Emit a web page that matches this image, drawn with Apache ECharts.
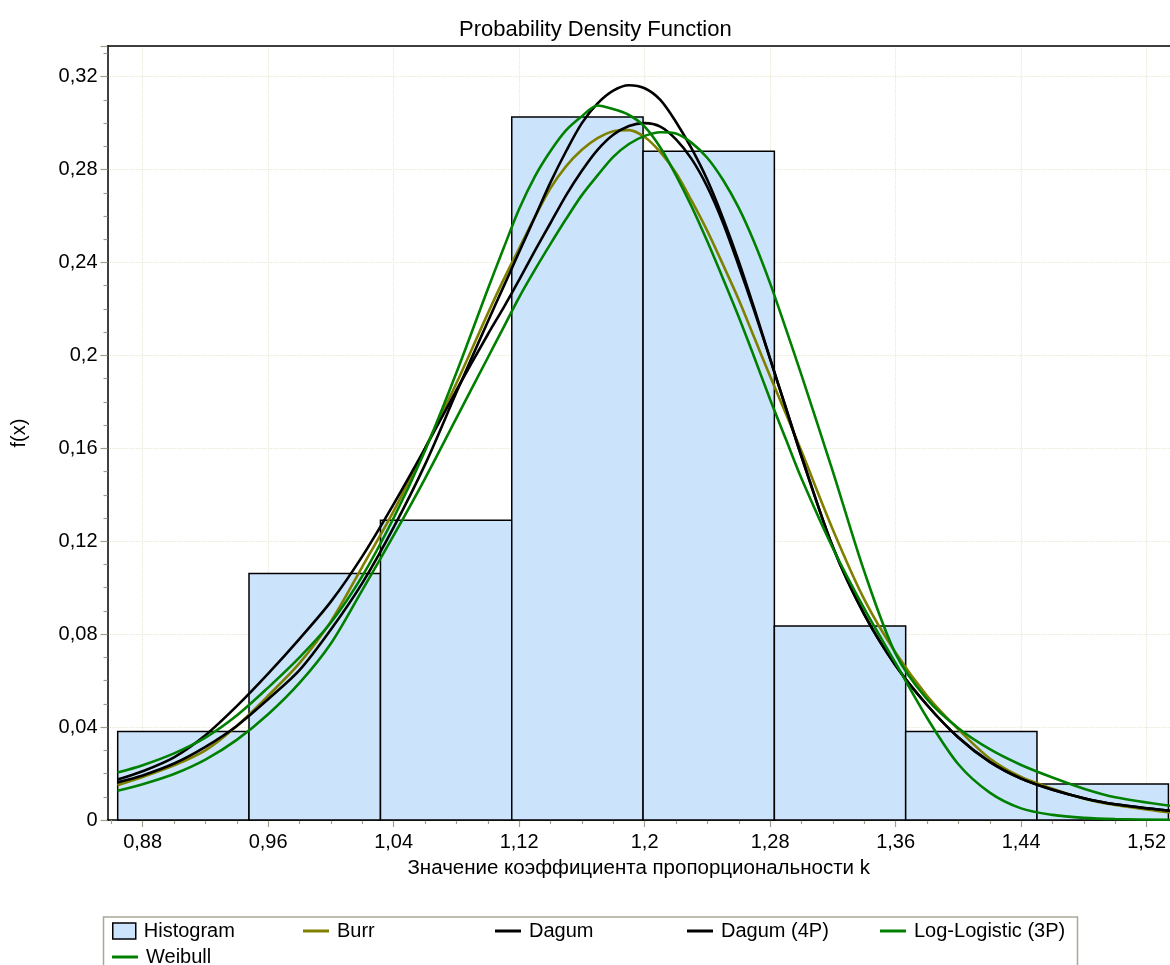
<!DOCTYPE html>
<html>
<head>
<meta charset="utf-8">
<script src="https://cdn.jsdelivr.net/npm/echarts@6/dist/echarts.min.js"></script>
<style>
    html, body { margin: 0; padding: 0; background: #fff; }
    #pdfChart { width: 1170px; height: 965px; }
</style>
</head>
<body>
<div id="pdfChart"></div>
<script>
    // гистограмма: границы интервалов и плотность
    var histEdges = [0.8641, 0.9478, 1.0316, 1.1153, 1.1990, 1.2827, 1.3664, 1.4501, 1.5339];
    var histDensity = [0.0381, 0.1061, 0.1290, 0.3026, 0.2879, 0.0835, 0.0381, 0.0155];

    // точки, в которых сняты значения плотностей с графика (у вершины чаще)
    var fitX = [0.864, 0.88, 0.90, 0.92, 0.94, 0.96, 0.98, 1.00, 1.02, 1.04, 1.06, 1.08,
        1.10, 1.11, 1.12, 1.13, 1.14, 1.15, 1.16, 1.17, 1.18, 1.19, 1.20, 1.21, 1.22, 1.23, 1.24, 1.25, 1.26, 1.27, 1.28, 1.29, 1.30,
        1.32, 1.34, 1.36, 1.38, 1.40, 1.42, 1.44, 1.46, 1.48, 1.50, 1.535];

    var burrY = [0.0150, 0.0185, 0.0235, 0.0300, 0.0405, 0.0535, 0.0675, 0.0855, 0.1090, 0.1330, 0.1600, 0.1880,
        0.2180, 0.2325, 0.2460, 0.2595, 0.2720, 0.2815, 0.2885, 0.2935, 0.2965, 0.2970, 0.2940, 0.2875, 0.2785, 0.2665, 0.2535, 0.2390, 0.2240, 0.2075, 0.1910, 0.1750, 0.1587,
        0.1250, 0.0950, 0.0720, 0.0535, 0.0390, 0.0265, 0.0185, 0.0135, 0.0092, 0.0065, 0.0032];
    var dagumY = [0.0162, 0.0192, 0.0243, 0.0315, 0.0405, 0.0520, 0.0645, 0.0820, 0.1020, 0.1260, 0.1530, 0.1840,
        0.2145, 0.2295, 0.2445, 0.2595, 0.2745, 0.2880, 0.3000, 0.3085, 0.3140, 0.3163, 0.3150, 0.3100, 0.3005, 0.2890, 0.2755, 0.2590, 0.2405, 0.2200, 0.1985, 0.1775, 0.1565,
        0.1175, 0.0885, 0.0665, 0.0495, 0.0355, 0.0250, 0.0178, 0.0130, 0.0094, 0.0068, 0.0040];
    var dagum4pY = [0.0174, 0.0210, 0.0270, 0.0365, 0.0490, 0.0630, 0.0780, 0.0940, 0.1135, 0.1360, 0.1600, 0.1850,
        0.2090, 0.2205, 0.2325, 0.2450, 0.2570, 0.2690, 0.2795, 0.2885, 0.2950, 0.2988, 0.3000, 0.2985, 0.2930, 0.2845, 0.2725, 0.2570, 0.2385, 0.2190, 0.1985, 0.1775, 0.1565,
        0.1175, 0.0885, 0.0665, 0.0495, 0.0355, 0.0250, 0.0178, 0.0130, 0.0094, 0.0068, 0.0040];
    var logLogY = [0.0126, 0.0154, 0.0198, 0.0260, 0.0345, 0.0455, 0.0590, 0.0760, 0.0990, 0.1225, 0.1470, 0.1730,
        0.1990, 0.2120, 0.2250, 0.2368, 0.2480, 0.2588, 0.2690, 0.2775, 0.2855, 0.2910, 0.2945, 0.2961, 0.2955, 0.2915, 0.2850, 0.2755, 0.2635, 0.2485, 0.2310, 0.2115, 0.1915,
        0.1500, 0.1070, 0.0715, 0.0520, 0.0395, 0.0305, 0.0237, 0.0183, 0.0135, 0.0098, 0.0061];
    var weibullY = [0.0204, 0.0236, 0.0287, 0.0355, 0.0450, 0.0570, 0.0700, 0.0850, 0.1050, 0.1300, 0.1590, 0.1925,
        0.2285, 0.2460, 0.2630, 0.2770, 0.2880, 0.2970, 0.3030, 0.3076, 0.3060, 0.3035, 0.2985, 0.2895, 0.2775, 0.2640, 0.2490, 0.2330, 0.2165, 0.1990, 0.1810, 0.1640, 0.1470,
        0.1170, 0.0910, 0.0675, 0.0440, 0.0240, 0.0118, 0.0050, 0.0022, 0.0009, 0.0004, 0.0001];

    // деления осей
    var xMajorTicks = [0.88, 0.96, 1.04, 1.12, 1.2, 1.28, 1.36, 1.44, 1.52];
    var xMinorTicks = [0.86, 0.9, 0.92, 0.94, 0.98, 1.0, 1.02, 1.06, 1.08, 1.1, 1.14, 1.16, 1.18, 1.22, 1.24, 1.26, 1.3, 1.32, 1.34, 1.38, 1.4, 1.42, 1.46, 1.48, 1.5];

    var FONT = 'Liberation Sans, Arial, sans-serif';
    var tickColor = '#a39e8e';
    var gridColor = '#e9e6d2';
    var histColor = '#cce4fb';
    var X_MIN = 0.8576, X_MAX = 1.5349;

    function commaFmt(v) {
        return String(+(+v).toFixed(2)).replace('.', ',');
    }

    function pairs(xs, ys) {
        var out = [];
        for (var i = 0; i < xs.length; i++) {
            out.push([xs[i], ys[i]]);
        }
        return out;
    }

    var histData = [];
    for (var i = 0; i < histDensity.length; i++) {
        histData.push([histEdges[i], histEdges[i + 1], histDensity[i]]);
    }

    function lineSeries(name, color, ys) {
        return {
            name: name,
            type: 'line',
            xAxisIndex: 0,
            data: pairs(fitX, ys),
            smooth: 0.3,
            showSymbol: false,
            symbol: 'none',
            color: color,
            lineStyle: {color: color, width: 2.6},
            z: 3
        };
    }

    function legendItem(name, left, top, isHist) {
        return {
            data: [isHist ? {
                name: name,
                icon: 'rect',
                itemStyle: {color: histColor, borderColor: '#000', borderWidth: 1.5}
            } : {name: name, icon: 'rect'}],
            left: left,
            top: top,
            padding: 0,
            itemWidth: isHist ? 23 : 26,
            itemHeight: isHist ? 16 : 3,
            selectedMode: false,
            textStyle: {fontFamily: FONT, fontSize: 20, color: '#000', lineHeight: 20, padding: [0, 0, 0, 3]}
        };
    }

    var chart = echarts.init(document.getElementById('pdfChart'));
    var option = {
        backgroundColor: '#fff',
        animation: false,
        title: {
            text: 'Probability Density Function',
            left: 454,
            top: 14,
            textStyle: {fontFamily: FONT, fontSize: 22, fontWeight: 'normal', color: '#000'}
        },
        legend: [
            legendItem('Histogram', 112, 921, true),
            legendItem('Burr', 303, 921),
            legendItem('Dagum', 495, 921),
            legendItem('Dagum (4P)', 687, 921),
            legendItem('Log-Logistic (3P)', 880, 921),
            legendItem('Weibull', 112, 947)
        ],
        graphic: [{
            type: 'rect',
            shape: {x: 103.5, y: 917, width: 974, height: 80},
            style: {fill: '#fff', stroke: '#aaa798', lineWidth: 1.5},
            z: 0
        }],
        grid: {
            left: 107.5,
            right: 0,
            top: 46,
            bottom: 145
        },
        xAxis: [{
            type: 'value',
            min: X_MIN,
            max: X_MAX,
            name: 'Значение коэффициента пропорциональности k',
            nameLocation: 'middle',
            nameGap: 38,
            nameTextStyle: {fontFamily: FONT, fontSize: 20.5, color: '#000'},
            axisLine: {show: true, onZero: false, lineStyle: {color: '#000', width: 1.5}},
            axisTick: {show: true, length: 7, customValues: xMajorTicks, lineStyle: {color: tickColor, width: 1.2}},
            axisLabel: {
                customValues: xMajorTicks,
                formatter: commaFmt,
                margin: 12,
                fontFamily: FONT,
                fontSize: 20,
                color: '#000'
            },
            splitLine: {show: true, lineStyle: {color: gridColor, type: 'dotted', width: 1.2}}
        }, {
            // малые деления снизу
            type: 'value',
            min: X_MIN,
            max: X_MAX,
            position: 'bottom',
            axisLine: {show: false},
            axisTick: {show: true, length: 4, customValues: xMinorTicks, lineStyle: {color: tickColor, width: 1.2}},
            axisLabel: {show: false},
            splitLine: {show: false}
        }, {
            // верхняя рамка
            type: 'value',
            min: X_MIN,
            max: X_MAX,
            position: 'top',
            axisLine: {show: true, lineStyle: {color: '#000', width: 1.5}},
            axisTick: {show: false},
            axisLabel: {show: false},
            splitLine: {show: false}
        }],
        yAxis: {
            type: 'value',
            min: 0,
            max: 0.3332,
            interval: 0.04,
            name: 'f(x)',
            nameLocation: 'middle',
            nameGap: 78,
            nameTextStyle: {fontFamily: FONT, fontSize: 20, color: '#000'},
            axisLine: {show: true, lineStyle: {color: '#000', width: 1.5}},
            axisTick: {show: true, length: 7, lineStyle: {color: tickColor, width: 1.2}},
            minorTick: {show: true, splitNumber: 4, length: 4, lineStyle: {color: tickColor, width: 1.2}},
            axisLabel: {
                formatter: commaFmt,
                showMaxLabel: false,
                margin: 10,
                fontFamily: FONT,
                fontSize: 20,
                color: '#000'
            },
            splitLine: {show: true, lineStyle: {color: gridColor, type: 'dotted', width: 1.2}}
        },
        series: [
            {
                name: 'Histogram',
                type: 'custom',
                xAxisIndex: 0,
                data: histData,
                encode: {x: [0, 1], y: 2},
                color: histColor,
                z: 2,
                renderItem: function (params, api) {
                    var topLeft = api.coord([api.value(0), api.value(2)]);
                    var bottomRight = api.coord([api.value(1), 0]);
                    return {
                        type: 'rect',
                        shape: {
                            x: topLeft[0],
                            y: topLeft[1],
                            width: bottomRight[0] - topLeft[0],
                            height: bottomRight[1] - topLeft[1]
                        },
                        style: {fill: histColor, stroke: '#000', lineWidth: 1.5}
                    };
                }
            },
            lineSeries('Burr', '#808000', burrY),
            lineSeries('Dagum', '#000000', dagumY),
            lineSeries('Dagum (4P)', '#000000', dagum4pY),
            lineSeries('Log-Logistic (3P)', '#008000', logLogY),
            lineSeries('Weibull', '#008000', weibullY)
        ]
    };
    chart.setOption(option);
</script>
</body>
</html>
